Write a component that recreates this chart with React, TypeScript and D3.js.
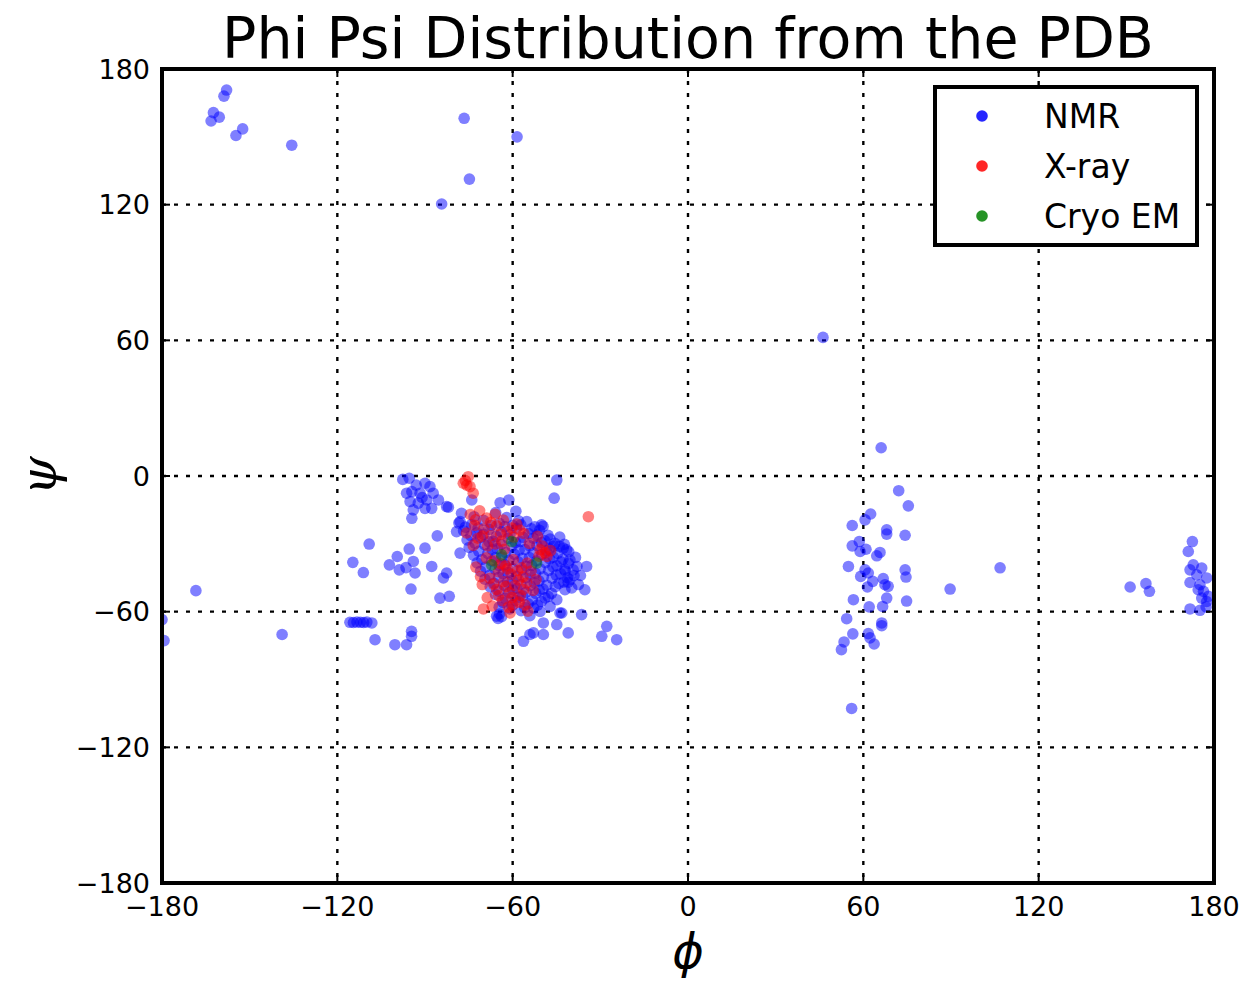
import React from "react";
import * as d3 from "d3";

// Backbone dihedral angles (phi, psi) in degrees, grouped by experimental method.
const nmrPoints: [number, number][] = [
  // beta / polyproline region, top left
  [-157.9, 170.7], [-158.8, 168.0], [-162.4, 160.7], [-160.4, 158.7], [-163.2, 157.0],
  [-152.4, 153.5], [-154.7, 150.6], [-135.6, 146.3], [-76.6, 158.2], [-74.8, 131.3],
  [-84.3, 120.3], [-58.5, 150.0], [46.2, 61.3],
  // far left
  [-180.0, -63.5], [-179.3, -72.8], [-168.4, -50.7], [-138.9, -70.1],
  // tight group near phi -112
  [-115.7, -64.7], [-114.5, -64.8], [-113.3, -64.6], [-112.1, -64.7], [-111.0, -64.8],
  [-109.9, -64.6], [-108.2, -65.0], [-107.1, -72.4], [-100.3, -74.6], [-96.3, -74.6],
  [-94.6, -68.7], [-94.6, -70.9],
  // scattered left of the helix
  [-94.8, -50.0], [-111.1, -42.7], [-114.7, -38.2], [-109.1, -30.1], [-102.2, -39.3],
  [-98.8, -41.5], [-93.4, -42.9], [-94.0, -37.8], [-87.7, -40.0], [-83.7, -45.1],
  [-84.9, -54.0], [-82.6, -42.9], [-99.5, -35.6], [-95.4, -32.3], [-90.0, -31.9],
  [-85.8, -26.5], [-81.7, -53.2], [-96.5, -40.5], [-78.0, -20.2], [-79.2, -24.6],
  [-78.0, -34.1], [-82.0, -13.8],
  // group just below psi 0
  [-97.6, -1.5], [-95.4, -1.0], [-90.0, -3.2], [-88.3, -4.7], [-94.5, -6.9],
  [-91.7, -7.6], [-87.2, -7.6], [-95.1, -11.3], [-92.3, -12.0], [-89.4, -10.6],
  [-85.4, -10.6], [-82.6, -13.5], [-94.0, -15.0], [-90.0, -14.3], [-87.7, -14.3],
  [-94.5, -18.7], [-96.3, -7.6], [-93.0, -4.0], [-91.0, -9.5],
  [-74.0, -10.6], [-64.3, -11.8], [-61.3, -10.6], [-44.9, -1.8], [-45.8, -9.8],
  [-57.2, -21.6], [-50.1, -21.6],
  // right lobe of the helix
  [-42.7, -31.9], [-40.4, -37.1], [-39.3, -41.5], [-40.4, -45.9], [-34.7, -40.0],
  [-35.3, -50.3], [-42.1, -50.3], [-44.9, -54.7], [-47.2, -57.7], [-43.2, -60.6],
  [-36.4, -61.3], [-44.9, -65.7], [-49.5, -65.0], [-52.9, -69.4], [-49.5, -70.1],
  [-41.0, -69.4], [-27.8, -66.5], [-29.5, -70.9], [-24.4, -72.4], [-41.5, -32.6],
  [-38.5, -36.0], [-39.0, -44.0], [-41.0, -47.0], [-37.5, -48.0], [-42.0, -42.0],
  [-38.0, -40.0], [-39.8, -49.5], [-36.8, -44.0],
  // below the helix
  [-65.5, -62.0], [-64.5, -61.0], [-65.0, -63.0], [-63.8, -62.2], [-56.3, -73.1],
  [-54.1, -70.1], [-50.6, -59.9], [-54.1, -61.8], [-43.8, -60.6],
  // alpha helix core
  [-77.5, -16.5], [-73.2, -18.0], [-65.8, -16.2], [-62.1, -18.4], [-58.9, -15.6],
  [-78.4, -20.8], [-74.1, -21.5], [-70.0, -19.6], [-64.6, -20.9], [-60.0, -21.8],
  [-55.2, -20.1], [-52.4, -22.5],
  [-76.8, -24.2], [-72.3, -25.1], [-68.1, -23.6], [-63.9, -24.7], [-58.7, -23.1],
  [-54.6, -25.5], [-50.8, -24.0], [-47.9, -26.2],
  [-75.6, -28.3], [-71.0, -27.2], [-66.7, -28.9], [-61.5, -27.6], [-57.3, -29.0],
  [-52.9, -27.5], [-49.0, -28.7], [-45.6, -29.8],
  [-74.9, -31.6], [-69.6, -30.4], [-65.2, -32.1], [-60.3, -31.0], [-55.8, -32.5],
  [-51.7, -30.7], [-47.4, -32.2], [-44.0, -31.1],
  [-73.4, -35.0], [-68.5, -34.2], [-63.7, -35.8], [-59.4, -34.6], [-54.3, -36.1],
  [-50.0, -34.7], [-46.1, -35.9], [-42.8, -36.8],
  [-72.2, -38.4], [-67.2, -37.6], [-62.8, -39.2], [-58.1, -38.0], [-53.5, -39.5],
  [-48.8, -38.3], [-44.9, -39.7], [-40.9, -38.6],
  [-71.0, -42.1], [-66.0, -41.2], [-61.6, -42.7], [-56.9, -41.5], [-52.2, -43.0],
  [-47.7, -41.8], [-43.6, -43.2],
  [-69.5, -45.6], [-64.8, -44.8], [-60.1, -46.1], [-55.5, -45.0], [-51.0, -46.4],
  [-46.5, -45.2], [-42.5, -46.9],
  [-67.7, -49.0], [-63.0, -48.3], [-58.6, -49.6], [-54.0, -48.5], [-49.6, -50.0],
  [-45.4, -48.9],
  [-65.9, -52.4], [-61.3, -51.7], [-56.6, -53.0], [-52.1, -51.9], [-47.8, -53.3],
  [-63.4, -55.9], [-59.0, -55.1], [-54.7, -56.5], [-50.2, -55.5],
  [-61.0, -58.8], [-57.1, -59.6], [-52.8, -58.4],
  [-76.2, -22.6], [-71.8, -22.9], [-67.3, -21.8], [-62.7, -22.4], [-58.0, -19.8],
  [-53.6, -23.4], [-49.6, -22.3],
  [-74.3, -26.4], [-69.9, -25.8], [-65.6, -26.7], [-60.9, -25.9], [-56.4, -27.1],
  [-51.6, -26.0], [-47.2, -27.9], [-43.9, -27.0],
  [-72.8, -29.8], [-68.1, -29.1], [-63.9, -30.3], [-59.0, -29.5], [-54.2, -30.9],
  [-50.1, -29.4], [-46.0, -31.1], [-42.3, -30.2],
  [-71.6, -33.3], [-67.0, -32.6], [-62.4, -33.9], [-57.8, -32.8], [-53.0, -34.0],
  [-48.5, -33.1], [-44.6, -34.2], [-40.8, -33.5],
  [-70.5, -36.9], [-65.9, -36.1], [-61.3, -37.3], [-56.7, -36.4], [-51.9, -37.6],
  [-47.3, -36.7], [-43.5, -38.0],
  [-69.3, -40.3], [-64.6, -39.6], [-60.0, -40.9], [-55.3, -39.9], [-50.6, -41.1],
  [-46.2, -40.2], [-42.2, -41.3],
  [-67.9, -43.9], [-63.3, -43.2], [-58.7, -44.5], [-54.0, -43.6], [-49.5, -44.6],
  [-45.1, -43.8], [-41.3, -45.0],
  [-66.4, -47.4], [-61.7, -46.9], [-57.2, -48.0], [-52.6, -47.2], [-48.3, -48.3],
  [-44.2, -47.5],
  [-64.7, -50.9], [-60.0, -50.3], [-55.4, -51.4], [-50.9, -50.6], [-46.7, -51.9],
  [-62.5, -54.1], [-57.9, -53.6], [-53.3, -54.8], [-48.9, -53.9],
  [-60.2, -57.3], [-55.9, -58.2], [-51.5, -57.1], [-64.6, -58.0],
  // left-handed helix region
  [66.1, 12.5], [72.1, -6.5], [75.4, -13.2], [62.5, -16.8], [60.6, -19.4],
  [56.2, -21.9], [68.0, -23.8], [68.0, -25.7], [74.3, -26.2], [58.6, -29.0],
  [56.2, -30.9], [60.9, -32.4], [58.9, -33.4], [65.7, -33.8], [64.6, -35.3],
  [54.9, -40.0], [60.6, -41.5], [61.7, -42.9], [59.1, -44.4], [74.3, -41.5],
  [74.6, -44.7], [66.8, -45.4], [67.4, -48.1], [68.5, -48.8], [63.2, -46.6],
  [61.4, -49.1], [68.0, -54.0], [56.6, -54.7], [74.8, -55.3], [62.0, -57.9],
  [66.6, -57.7], [54.3, -63.1], [66.3, -65.0], [66.3, -66.2], [56.4, -69.8],
  [61.7, -69.7], [62.3, -71.6], [63.7, -74.3], [53.4, -73.4], [52.5, -76.8],
  [56.0, -102.8], [89.7, -50.0], [106.8, -40.6],
  // far right
  [151.3, -49.1], [156.7, -47.6], [157.9, -51.0], [172.6, -29.0], [171.2, -33.4],
  [171.8, -41.5], [172.9, -39.3], [175.8, -40.7], [174.1, -43.7], [177.5, -45.1],
  [171.8, -47.1], [175.2, -48.1], [176.4, -51.0], [174.6, -50.3], [175.8, -54.0],
  [177.5, -55.5], [171.8, -58.8], [175.2, -59.4], [177.3, -57.9], [178.1, -53.2],
];

const xrayPoints: [number, number][] = [
  [-76.9, -3.2], [-75.2, -0.3], [-74.6, -4.7], [-73.5, -7.6], [-75.7, -4.0], [-76.2, -2.0],
  [-34.1, -18.0], [-70.0, -58.8],
  [-74.5, -17.0], [-71.3, -15.4], [-68.9, -18.6], [-66.0, -16.9], [-63.2, -19.5],
  [-73.0, -21.8], [-69.8, -23.4], [-65.5, -22.0], [-61.9, -24.6], [-58.6, -21.3],
  [-75.8, -25.2], [-71.9, -27.5], [-67.4, -26.3], [-63.7, -28.8], [-59.6, -27.0],
  [-56.2, -25.4], [-68.6, -30.9], [-62.8, -32.4], [-54.3, -29.8], [-51.5, -26.7],
  [-50.6, -32.6], [-48.9, -34.0], [-49.8, -31.0], [-48.3, -35.6],
  [-66.3, -37.5], [-62.4, -39.8], [-59.8, -37.0], [-57.0, -40.6], [-64.9, -42.3],
  [-60.5, -43.5], [-56.5, -44.6], [-53.7, -42.0], [-67.8, -45.2], [-63.1, -46.7],
  [-59.3, -48.4], [-55.2, -47.3], [-65.5, -50.2], [-61.0, -51.6], [-57.4, -52.8],
  [-53.0, -50.6], [-68.7, -53.8], [-63.6, -55.1], [-59.9, -56.9], [-55.8, -57.0],
  [-60.9, -60.6], [-72.6, -40.3], [-70.4, -48.0],
  [-72.7, -19.4], [-67.5, -20.5], [-64.1, -25.8], [-60.3, -23.0], [-57.5, -24.0],
  [-70.4, -26.6], [-66.0, -30.0], [-73.5, -30.7], [-69.0, -36.2], [-64.0, -38.8],
  [-58.3, -41.8], [-61.8, -41.0], [-55.0, -38.5], [-52.0, -45.8], [-58.0, -46.0],
  [-62.3, -48.9], [-66.6, -47.8], [-56.3, -50.2], [-60.2, -53.8], [-64.8, -52.9],
  [-57.8, -55.8], [-61.5, -58.0], [-51.0, -35.5], [-47.0, -33.0], [-71.0, -44.5],
  [-67.0, -57.5], [-54.8, -59.8],
];

const cryoEmPoints: [number, number][] = [
  [-63.8, -34.9], [-67.2, -39.3], [-51.8, -38.5], [-60.3, -29.0],
];

const seriesNames = ["NMR", "X-ray", "Cryo EM"];
const seriesColors = ["#0000ff", "#ff0000", "#008000"];
const seriesData = [nmrPoints, xrayPoints, cryoEmPoints];

const tickValues = [-180, -120, -60, 0, 60, 120, 180];
const gridValues = [-120, -60, 0, 60, 120];

const W = 1245;
const H = 984;
const FONT = "'DejaVu Sans', sans-serif";

const fmt = (v: number) => (v < 0 ? "\u2212" + Math.abs(v) : String(v));

export default function App() {
  const x = d3.scaleLinear().domain([-180, 180]).range([162, 1214]);
  const y = d3.scaleLinear().domain([-180, 180]).range([883, 69]);
  const [x0, x1] = x.range();
  const [y0, y1] = y.range();

  return (
    <svg
      width={W}
      height={H}
      style={{ position: "absolute", left: 0, top: 0, background: "#fff" }}
      fontFamily={FONT}
    >
      <defs>
        <clipPath id="plot-area">
          <rect x={x0} y={y1} width={x1 - x0} height={y0 - y1} />
        </clipPath>
      </defs>

      {/* title */}
      <text x={(x0 + x1) / 2} y={58} textAnchor="middle" fontSize={57} fill="#000">
        Phi Psi Distribution from the PDB
      </text>

      {/* dotted grid */}
      <g stroke="#000" strokeWidth={2.4} strokeDasharray="4 8">
        {gridValues.map((v) => (
          <line key={"gx" + v} x1={x(v)} x2={x(v)} y1={y1} y2={y0} />
        ))}
        {gridValues.map((v) => (
          <line key={"gy" + v} x1={x0} x2={x1} y1={y(v)} y2={y(v)} />
        ))}
      </g>

      {/* scatter points */}
      <g clipPath="url(#plot-area)">
        {seriesData.map((pts, si) => (
          <g key={si} fill={seriesColors[si]} fillOpacity={0.5}>
            {pts.map((p, i) => (
              <circle key={i} cx={x(p[0])} cy={y(p[1])} r={5.8} />
            ))}
          </g>
        ))}
      </g>

      {/* inward ticks on all four sides */}
      <g stroke="#000" strokeWidth={2}>
        {tickValues.map((v) => (
          <g key={"t" + v}>
            <line x1={x(v)} x2={x(v)} y1={y0} y2={y0 - 8} />
            <line x1={x(v)} x2={x(v)} y1={y1} y2={y1 + 8} />
            <line x1={x0} x2={x0 + 8} y1={y(v)} y2={y(v)} />
            <line x1={x1} x2={x1 - 8} y1={y(v)} y2={y(v)} />
          </g>
        ))}
      </g>

      {/* frame */}
      <rect
        x={x0}
        y={y1}
        width={x1 - x0}
        height={y0 - y1}
        fill="none"
        stroke="#000"
        strokeWidth={4}
      />

      {/* tick labels */}
      <g fontSize={27} fill="#000">
        {tickValues.map((v) => (
          <text key={"xl" + v} x={x(v)} y={916} textAnchor="middle">
            {fmt(v)}
          </text>
        ))}
        {tickValues.map((v) => (
          <text
            key={"yl" + v}
            x={150}
            y={y(v)}
            textAnchor="end"
            dominantBaseline="central"
          >
            {fmt(v)}
          </text>
        ))}
      </g>

      {/* axis labels */}
      <text
        x={(x0 + x1) / 2}
        y={968}
        textAnchor="middle"
        fontSize={48}
        fontStyle="italic"
        fill="#000"
      >
        ϕ
      </text>
      <text
        transform={`translate(56, ${(y0 + y1) / 2}) rotate(-90)`}
        textAnchor="middle"
        fontSize={50}
        fontStyle="italic"
        fontFamily="'DejaVu Serif', serif"
        fill="#000"
      >
        ψ
      </text>

      {/* legend */}
      <g>
        <rect x={935} y={87} width={262} height={158} fill="#fff" stroke="#000" strokeWidth={4} />
        {seriesNames.map((name, i) => (
          <g key={name}>
            <circle cx={982} cy={116 + i * 50} r={5.8} fill={seriesColors[i]} fillOpacity={0.85} />
            <text x={1044} y={116 + i * 50} dominantBaseline="central" fontSize={33} fill="#000">
              {name}
            </text>
          </g>
        ))}
      </g>
    </svg>
  );
}
